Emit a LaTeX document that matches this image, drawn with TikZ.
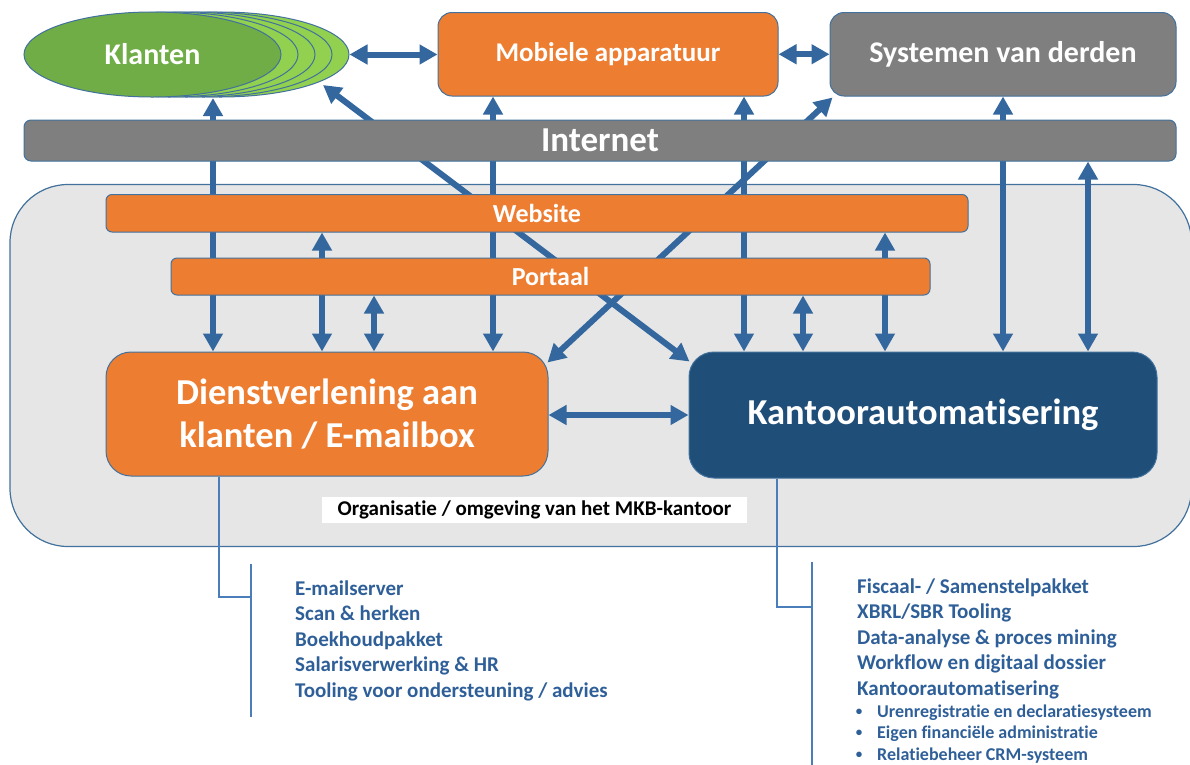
\documentclass[tikz,border=0pt]{standalone}
\usepackage{fontspec}
\setmainfont{Carlito}[Ligatures=NoCommon]
\usetikzlibrary{arrows.meta,shapes.geometric,calc}
\definecolor{orng}{HTML}{ED7D31}
\definecolor{gry}{HTML}{7F7F7F}
\definecolor{grn}{HTML}{70AD47}
\definecolor{lgrn}{HTML}{92D050}
\definecolor{navy}{HTML}{1F4E79}
\definecolor{outl}{HTML}{41719C}
\definecolor{arrc}{HTML}{33679E}
\definecolor{areac}{HTML}{E6E6E6}
\definecolor{listc}{HTML}{2F5F98}
\definecolor{brkc}{HTML}{4A7EBB}
\pgfdeclarelayer{back}
\pgfdeclarelayer{mid}
\pgfsetlayers{back,mid,main}
\begin{document}
\begin{tikzpicture}[x=1pt,y=-1pt,
  ell/.style={ellipse, draw=outl, line width=1pt, minimum width=257pt, minimum height=85pt, inner sep=0pt},
  boxshape/.style={rectangle, draw=outl, line width=1pt, inner sep=0pt, text=white},
  topbox/.style={boxshape, rounded corners=14pt, minimum height=83.5pt, font=\bfseries\fontsize{30}{36}\selectfont},
  barshape/.style={boxshape, rounded corners=6pt, fill=orng, font=\bfseries\fontsize{26}{31}\selectfont},
  bigbox/.style={boxshape, rounded corners=25pt, align=center, font=\bfseries\fontsize{36.5}{43}\selectfont},
  dbl/.style={color=arrc, line width=6pt, {Triangle[width=19pt,length=18pt]}-{Triangle[width=19pt,length=18pt]}},
  brk/.style={draw=brkc, line width=1.4pt},
  listtxt/.style={anchor=base west, inner sep=0pt, text=listc, font=\bfseries\fontsize{21}{25}\selectfont},
  listsm/.style={anchor=base west, inner sep=0pt, text=listc, font=\bfseries\fontsize{18}{21}\selectfont},
  bulletmark/.style={anchor=base, inner sep=0pt, text=listc, font=\bfseries\fontsize{13}{15}\selectfont}
]
\useasboundingbox (0,0) rectangle (1190,764);

% organisation area
\begin{pgfonlayer}{back}
\node[rectangle, draw=outl, line width=1.2pt, fill=areac, rounded corners=58pt,
      minimum width=1181.5pt, minimum height=362pt, inner sep=0pt] (org) at (600.75,365.5) {};
\end{pgfonlayer}

% Klanten stack
\foreach \i in {4,3,2,1} {
  \node[ell, fill=lgrn] (k\i) at ({152.5+17*\i},54.5) {};
}
\node[ell, fill=grn, text=white, font=\bfseries\fontsize{30}{36}\selectfont] (klanten) at (152.5,54.5) {Klanten};

% top boxes
\node[topbox, fill=orng, minimum width=340pt, font=\bfseries\fontsize{27}{32}\selectfont] (mobiel) at (608,54.25) {Mobiele apparatuur};
\node[topbox, fill=gry, minimum width=346pt] (systemen) at (1003,54.25) {Systemen van derden};

% bars
\node[boxshape, fill=gry, rounded corners=7pt, minimum width=1152pt, minimum height=41pt,
      font=\bfseries\fontsize{35}{40}\selectfont] (internet) at (600,140.5) {Internet};
\node[barshape, minimum width=862pt, minimum height=37.5pt] (website) at (537,213.25) {Website};
\node[barshape, minimum width=759pt, minimum height=37pt] (portaal) at (550.5,276.5) {Portaal};

% big boxes
\node[bigbox, fill=orng, minimum width=442pt, minimum height=124pt] (dienst) at (327,414) {Dienstverlening aan\\klanten / E-mailbox};
\node[bigbox, fill=navy, minimum width=468pt, minimum height=126pt] (kantoor) at (923,415) {Kantoorautomatisering};

% label
\node[rectangle, fill=white, inner sep=0pt, minimum width=425pt, minimum height=26.5pt,
      font=\bfseries\fontsize{21}{24}\selectfont] (orglabel) at (534.5,509.75) {Organisatie / omgeving van het MKB-kantoor};

% helper coordinates
\coordinate (x213) at (213,0);
\coordinate (x322) at (322,0);
\coordinate (x374) at (374,0);
\coordinate (x493) at (493,0);
\coordinate (x744) at (744,0);
\coordinate (x803) at (803,0);
\coordinate (x885) at (885,0);
\coordinate (x1088) at (1088,0);
\coordinate (klb) at (213,98);
\coordinate (klse) at (323,85);

% arrows
\begin{pgfonlayer}{mid}
\draw[dbl] (k4.east) -- (k4.east -| mobiel.west);
\draw[dbl] (mobiel.east) -- (systemen.west);
\draw[dbl] (klb) -- (dienst.north -| x213);
\draw[dbl] (mobiel.south -| x493) -- (dienst.north -| x493);
\draw[dbl] (mobiel.south -| x744) -- (kantoor.north -| x744);
\draw[dbl] (systemen.south) -- (kantoor.north -| systemen.south);
\draw[dbl] (internet.south -| x1088) -- (kantoor.north -| x1088);
\draw[dbl] (klse) -- ($(kantoor.north west)+(1,10)$);
\draw[dbl] ($(dienst.north east)+(-1,11)$) -- ($(systemen.south west)+(3,1)$);
\draw[dbl] (website.south -| x322) -- (dienst.north -| x322);
\draw[dbl] (portaal.south -| x374) -- (dienst.north -| x374);
\draw[dbl] (portaal.south -| x803) -- (kantoor.north -| x803);
\draw[dbl] (website.south -| x885) -- (kantoor.north -| x885);
\draw[dbl] (dienst.east |- 0,415) -- (kantoor.west |- 0,415);
\end{pgfonlayer}

% brackets
\coordinate (x219) at (219,0);
\coordinate (lbm) at (251,597);
\coordinate (lbt) at (251,564);
\coordinate (lbb) at (251,717);
\draw[brk] (dienst.south -| x219) |- (lbm);
\draw[brk] (lbt) -- (lbb);
\coordinate (x777) at (777,0);
\coordinate (rbm) at (812,607);
\coordinate (rbt) at (812,562);
\coordinate (rbb) at (812,770);
\draw[brk] (kantoor.south -| x777) |- (rbm);
\draw[brk] (rbt) -- (rbb);

% lists
\node[listtxt] (l1) at (295,595) {E-mailserver};
\node[listtxt] (l2) at (295,620.5) {Scan \& herken};
\node[listtxt] (l3) at (295,646) {Boekhoudpakket};
\node[listtxt] (l4) at (295,671.5) {Salarisverwerking \& HR};
\node[listtxt] (l5) at (295,697) {Tooling voor ondersteuning / advies};

\node[listtxt] (r1) at (857,593) {Fiscaal- / Samenstelpakket};
\node[listtxt] (r2) at (857,618.5) {XBRL/SBR Tooling};
\node[listtxt] (r3) at (857,644) {Data-analyse \& proces mining};
\node[listtxt] (r4) at (857,669.5) {Workflow en digitaal dossier};
\node[listtxt] (r5) at (857,695) {Kantoorautomatisering};
\node[bulletmark] (b1) at (859,715) {•};
\node[listsm] (r6) at (877,717) {Urenregistratie en declaratiesysteem};
\node[bulletmark] (b2) at (859,736.5) {•};
\node[listsm] (r7) at (877,738.5) {Eigen financiële administratie};
\node[bulletmark] (b3) at (859,758) {•};
\node[listsm] (r8) at (877,760) {Relatiebeheer CRM-systeem};
\end{tikzpicture}
\end{document}
